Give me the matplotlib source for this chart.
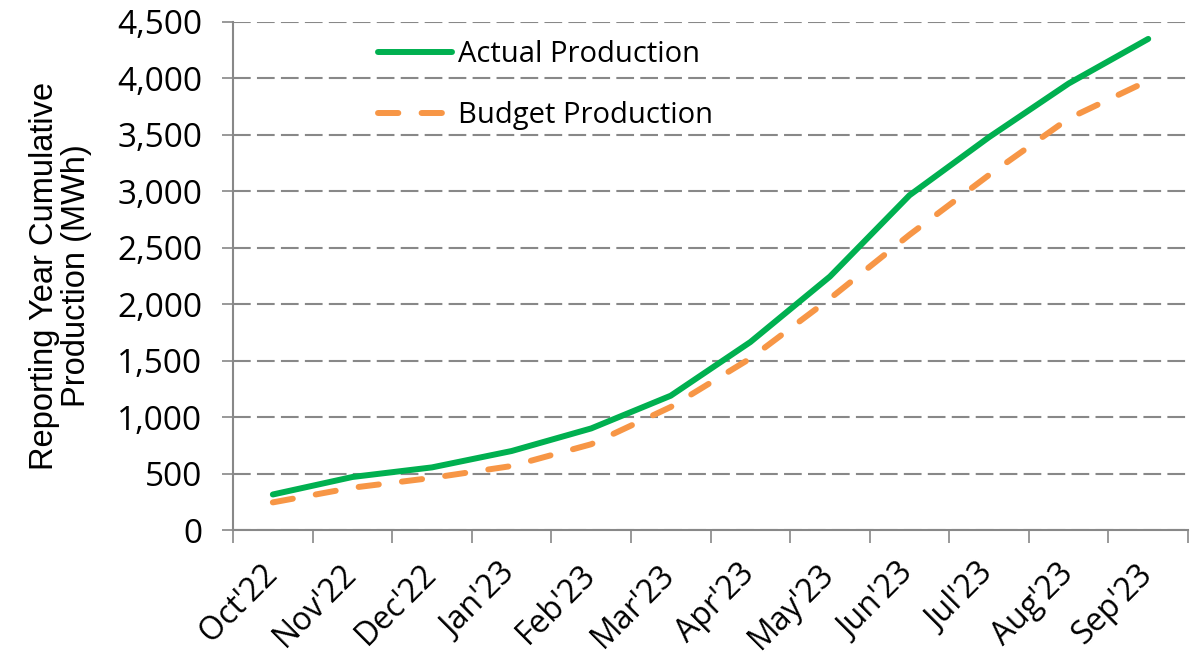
import numpy as np
import matplotlib.pyplot as plt
import matplotlib.transforms as mtransforms
from matplotlib.ticker import FuncFormatter, MultipleLocator

# Data
months = ["Oct'22", "Nov'22", "Dec'22", "Jan'23", "Feb'23", "Mar'23",
          "Apr'23", "May'23", "Jun'23", "Jul'23", "Aug'23", "Sep'23"]
actual = [315, 470, 555, 700, 900, 1190, 1665, 2245, 2965, 3480, 3955, 4350]
budget = [245, 375, 462, 567, 760, 1090, 1520, 2050, 2615, 3145, 3645, 3980]

fig = plt.figure(figsize=(11.97, 6.56), dpi=100)
ax = fig.add_axes([0.1947, 0.192, 0.7978, 0.7745])

x = np.arange(len(months))
ax.plot(x, actual, color='#00B050', lw=4.3, solid_capstyle='round',
        label='Actual Production', zorder=3)
ax.plot(x, budget, color='#F79646', lw=4.3, dashes=(3.4, 3.9),
        dash_capstyle='round', label='Budget Production', zorder=3)

ax.set_xlim(-0.5, len(months) - 0.5)
ax.set_ylim(0, 4500)
ax.yaxis.set_major_locator(MultipleLocator(500))
ax.yaxis.set_major_formatter(FuncFormatter(lambda v, p: f"{int(v):,}"))
ax.grid(axis='y', color='#888888', ls=(0, (8.5, 3)), lw=1.5, zorder=0)

ax.set_xticks(x)
ax.set_xticklabels(months, rotation=45, ha='right', rotation_mode='anchor',
                   fontsize=23, family='Open Sans')
ax.set_xticks(np.arange(len(months) + 1) - 0.5, minor=True)
ax.tick_params(axis='x', which='major', length=0, pad=20)
ax.tick_params(axis='x', which='minor', length=9, width=1.2, color='#888888')
ax.tick_params(axis='y', length=8, width=1.2, color='#888888', labelsize=24, pad=14)
for lbl in ax.get_yticklabels():
    lbl.set_family('Open Sans')

# nudge the rotated month labels a little to the left
shift = mtransforms.ScaledTranslation(-0.12, 0, fig.dpi_scale_trans)
for lbl in ax.get_xticklabels():
    lbl.set_transform(lbl.get_transform() + shift)

for s in ['top', 'right']:
    ax.spines[s].set_visible(False)
for s in ['left', 'bottom']:
    ax.spines[s].set_color('#888888')
    ax.spines[s].set_linewidth(1.5)

ax.set_ylabel('Reporting Year Cumulative\nProduction (MWh)', fontsize=23.5,
              family='Liberation Sans', linespacing=1.05)
ax.yaxis.set_label_coords(-0.1475, 0.5)

ax.legend(loc='upper left', bbox_to_anchor=(378 / 1197, 1 - 40 / 656),
          bbox_transform=fig.transFigure, frameon=False, borderpad=0,
          borderaxespad=0, prop={'family': 'Open Sans', 'size': 21},
          handlelength=2.55, handletextpad=0.2, labelspacing=1.1)

fig.savefig('out.png', dpi=100)
